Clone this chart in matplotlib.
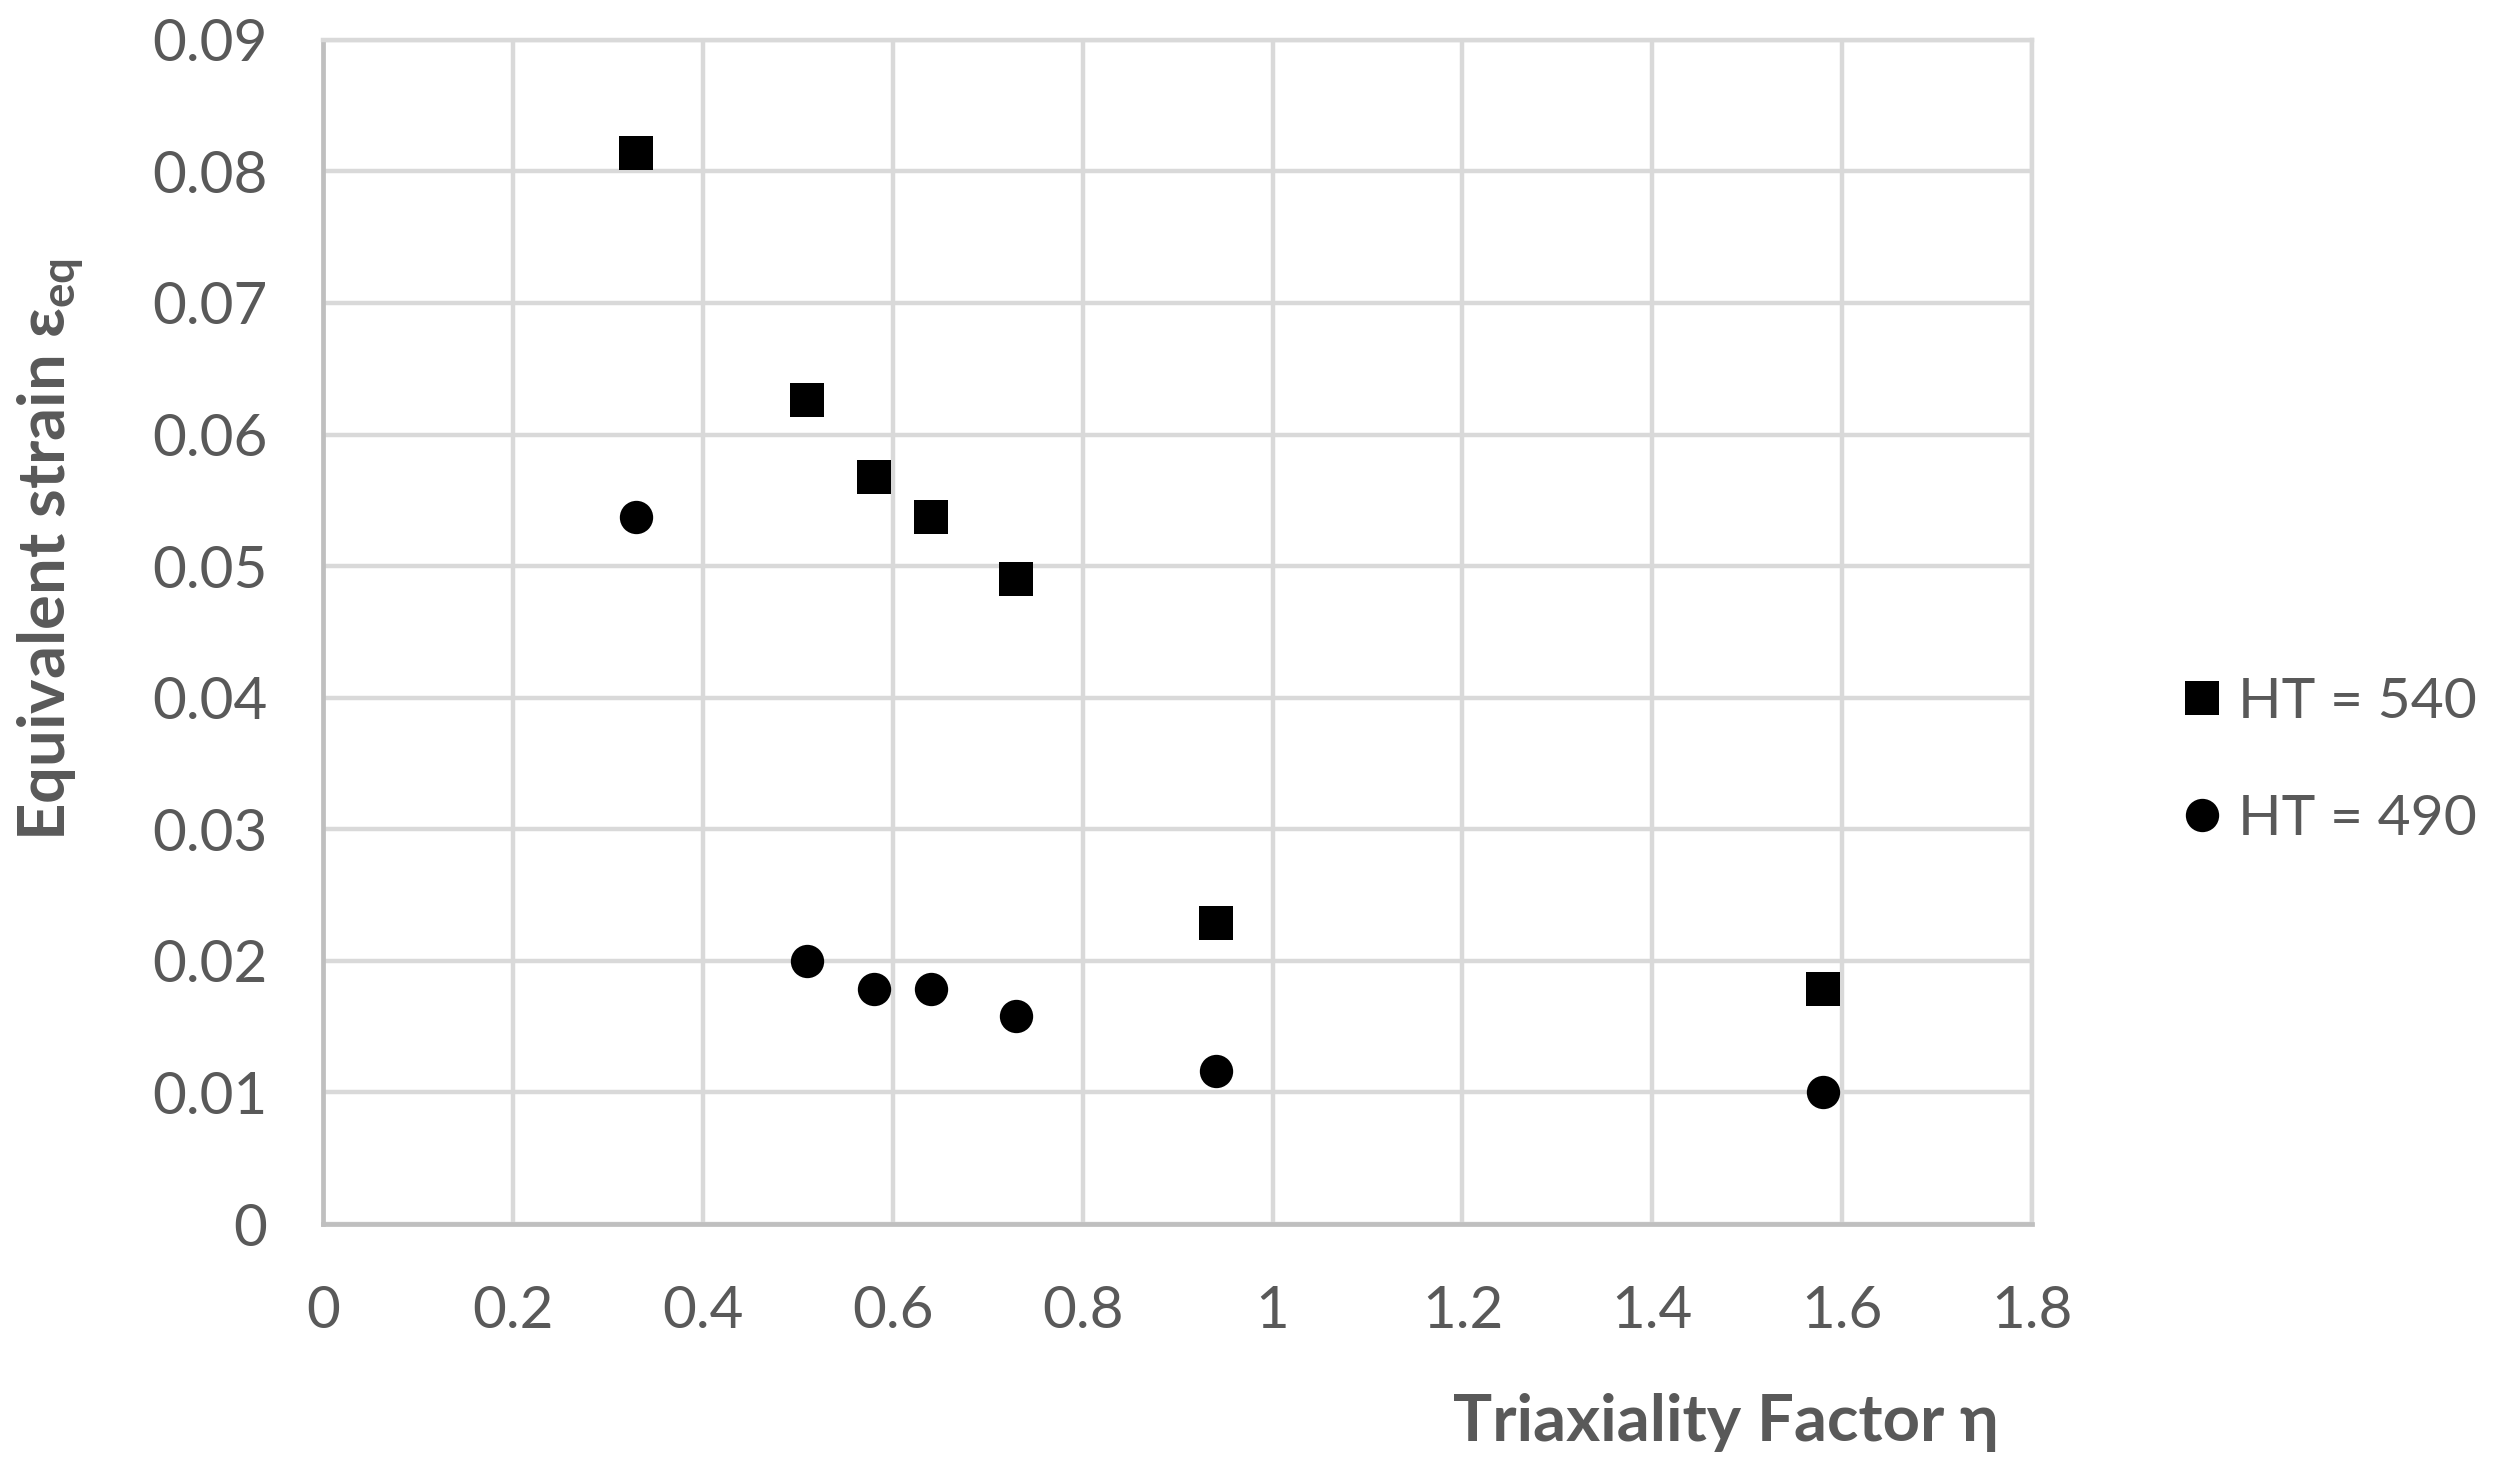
import matplotlib.pyplot as plt

# data
eta_540 = [0.33, 0.51, 0.58, 0.64, 0.73, 0.94, 1.58]
strain_540 = [0.0814, 0.0626, 0.0568, 0.0537, 0.0490, 0.0229, 0.0179]
eta_490 = [0.33, 0.51, 0.58, 0.64, 0.73, 0.94, 1.58]
strain_490 = [0.0537, 0.0200, 0.0179, 0.0179, 0.0158, 0.0116, 0.0100]

x_ticks = [0, 0.2, 0.4, 0.6, 0.8, 1, 1.2, 1.4, 1.6, 1.8]
x_tick_labels = ['0', '0.2', '0.4', '0.6', '0.8', '1', '1.2', '1.4', '1.6', '1.8']
y_ticks = [0, 0.01, 0.02, 0.03, 0.04, 0.05, 0.06, 0.07, 0.08, 0.09]
y_tick_labels = ['0', '0.01', '0.02', '0.03', '0.04', '0.05', '0.06', '0.07', '0.08', '0.09']

plt.rcParams['font.family'] = ['Lato', 'DejaVu Sans']

text_col = '#595959'
grid_col = '#d9d9d9'
axis_col = '#bfbfbf'

fig = plt.figure(figsize=(24.95, 14.73), dpi=100)
ax = fig.add_axes([0.1295, 0.169, 0.685, 0.804])

ax.plot(eta_540, strain_540, linestyle='none', marker='s', markersize=24,
        markeredgewidth=0, color='black', label='HT = 540', zorder=3)
ax.plot(eta_490, strain_490, linestyle='none', marker='o', markersize=24,
        markeredgewidth=0, color='black', label='HT = 490', zorder=3)

ax.set_xlim(0, 1.8)
ax.set_ylim(0, 0.09)
ax.set_xticks(x_ticks)
ax.set_xticklabels(x_tick_labels)
ax.set_yticks(y_ticks)
ax.set_yticklabels(y_tick_labels)
ax.tick_params(length=0, labelsize=42, labelcolor=text_col)
ax.tick_params(axis='y', pad=40)
ax.tick_params(axis='x', pad=44)

ax.grid(True, color=grid_col, linewidth=3.2)
ax.set_axisbelow(True)
for s in ['left', 'bottom']:
    ax.spines[s].set_color(axis_col)
    ax.spines[s].set_linewidth(3.4)
for s in ['top', 'right']:
    ax.spines[s].set_color(grid_col)
    ax.spines[s].set_linewidth(3.2)

ax.set_xlabel('Triaxiality Factor η', fontsize=47, fontweight='bold', color=text_col)
ax.xaxis.set_label_coords(0.821, -0.143)
ax.set_ylabel(r'Equivalent strain ε$_{\mathregular{eq}}$', fontsize=47,
              fontweight='bold', color=text_col)
ax.yaxis.set_label_coords(-0.138, 0.57)

ax.legend(loc='center left', bbox_to_anchor=(1.086, 0.391), frameon=False,
          fontsize=41, labelcolor=text_col, handlelength=0.8, handletextpad=0.24,
          borderpad=0, borderaxespad=0, labelspacing=1.15)

plt.savefig('out.png', dpi=100)
